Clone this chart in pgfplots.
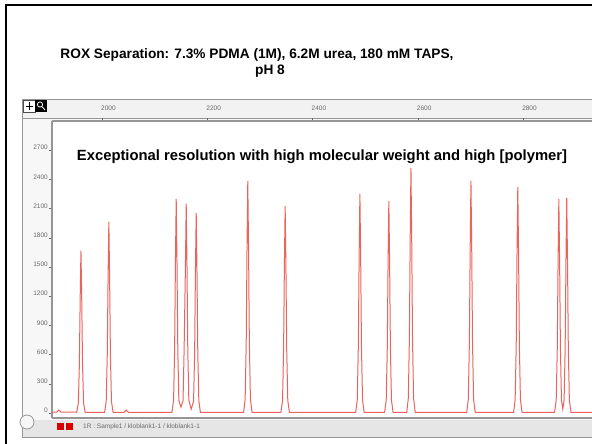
\documentclass[border=0pt]{standalone}
\usepackage{pgfplots}
\pgfplotsset{compat=1.18}
\usepackage{fontspec}
\setmainfont{Liberation Sans}

\definecolor{trace}{RGB}{234,100,92}
\definecolor{rulergray}{RGB}{242,242,242}
\definecolor{panelgray}{RGB}{247,247,247}
\definecolor{linegray}{RGB}{150,150,150}
\definecolor{labelgray}{RGB}{105,105,105}

\begin{document}
\begin{tikzpicture}[x=1pt,y=1pt]
\useasboundingbox (0,0) rectangle (592,444);
\clip (0,0) rectangle (592,444);

% slide frame and heading
\draw[line width=2pt] (6,-10) -- (6,439) -- (620,439);
\node[font=\bfseries\fontsize{13.7}{16}\selectfont] at (257,389) {ROX Separation: 7.3\% PDMA (1M), 6.2M urea, 180 mM TAPS,};
\node[font=\bfseries\fontsize{13.7}{16}\selectfont] at (270,373) {pH 8};

% viewer window
\fill[panelgray] (22,7) rectangle (600,345);
\fill[rulergray] (22,326) rectangle (600,345);
\fill[white] (52,26) rectangle (600,323);
\fill[rulergray!95!black] (22,7) rectangle (600,24);
\draw[linegray, line width=0.8pt] (22,7) rectangle (600,345);
\draw[linegray, line width=0.8pt] (22,326) -- (600,326);
\draw[white, fill=white, draw=black!70, line width=0.5pt] (23.5,332) rectangle (35,343.5);
\draw[black, line width=1pt] (25.5,337.8) -- (33,337.8) (29.2,334) -- (29.2,341.5);
\fill[black] (35,332) rectangle (47,343.5);
\draw[white, line width=0.8pt] (40,339.5) circle (2.6) (41.8,337.6) -- (45,334);
\fill[red!85!black] (57,14) rectangle (64,21);
\fill[red!85!black] (66,14) rectangle (73,21);
\node[anchor=west, font=\fontsize{6.5}{7}\selectfont, text=labelgray, inner sep=0pt] at (83,17.5) {1R : Sample1 / kloblank1-1 / kloblank1-1};
\draw[linegray, fill=panelgray, line width=0.8pt] (27,22) circle (7);

\begin{axis}[
  at={(52pt,26pt)}, anchor=south west,
  width=540pt, height=297pt, scale only axis,
  xmin=1905, xmax=2931, ymin=-51, ymax=3000,
  axis x line*=top, axis y line*=left,
  axis line style={linegray, line width=1.2pt},
  xtick={2000,2200,2400,2600,2800},
  xticklabels={2000,2200,2400,2600,2800},
  ytick={0,300,600,900,1200,1500,1800,2100,2400,2700},
  yticklabels={0,300,600,900,1200,1500,1800,2100,2400,2700},
  tick align=outside, major tick length=3pt,
  tick style={labelgray, line width=0.5pt},
  xticklabel style={font=\fontsize{6.5}{7}\selectfont, text=labelgray, anchor=south west, inner sep=0pt, xshift=-1pt, yshift=7pt},
  yticklabel style={font=\fontsize{6.5}{7}\selectfont, text=labelgray, anchor=south east, inner sep=0pt, xshift=-1pt},
  clip=true,
]
\addplot[trace, line width=1pt, no markers, sharp plot] coordinates {
(1905,10) (1914,10) (1918,30) (1922,10)
(1952,8) (1955,100) (1957,500) (1958.5,1168) (1960,1668) (1961.5,1168) (1963,500) (1965,100) (1968,8)
(2005,8) (2008,118) (2010,590) (2011.5,1376) (2013,1965) (2014.5,1376) (2016,590) (2018,118) (2021,8)
(2042,8) (2046,30) (2050,8)
(2133,8) (2136,132) (2138,660) (2139.5,1540) (2141,2200) (2142.5,1540) (2144,660) (2146,132)
(2150,60)
(2154,129) (2156,645) (2158.5,1505) (2160,2150) (2161.5,1505) (2163,645) (2165,129)
(2169.5,40)
(2174,123) (2176,617) (2177.5,1440) (2179,2057) (2180.5,1440) (2182,617) (2184,123) (2187,8)
(2269,8) (2272,143) (2274,716) (2275.5,1670) (2277,2385) (2278.5,1670) (2280,716) (2282,143) (2285,8)
(2340,8) (2343,128) (2345,639) (2346.5,1490) (2348,2129) (2349.5,1490) (2351,639) (2353,128) (2356,8)
(2482,8) (2485,135) (2487,676) (2488.5,1576) (2490,2252) (2491.5,1576) (2493,676) (2495,135) (2498,8)
(2537,8) (2540,131) (2542,654) (2543.5,1526) (2545,2180) (2546.5,1526) (2548,654) (2550,131) (2553,8)
(2579,8) (2582,151) (2584,755) (2585.5,1763) (2587,2518) (2588.5,1763) (2590,755) (2592,151) (2595,8)
(2693,8) (2696,143) (2698,716) (2699.5,1670) (2701,2385) (2702.5,1670) (2704,716) (2706,143) (2709,8)
(2782,8) (2785,139) (2787,697) (2788.5,1626) (2790,2323) (2791.5,1626) (2793,697) (2795,139) (2798,8)
(2860,8) (2863,132) (2865,660) (2866.5,1540) (2868,2200) (2869.5,1540) (2871,660) (2873,132)
(2875.5,40)
(2878,133) (2880,663) (2881.5,1548) (2883,2211) (2884.5,1548) (2886,663) (2888,133) (2891,8) (2931,8)
};
\end{axis}

% bottom edge of the trace area and the inner caption
\draw[linegray, line width=1.4pt] (52,26) -- (600,26);
\draw[linegray, line width=0.8pt] (52,323.6) -- (600,323.6);
\node[font=\bfseries\fontsize{14.8}{17}\selectfont] at (322,287) {Exceptional resolution with high molecular weight and high [polymer]};
\end{tikzpicture}
\end{document}
